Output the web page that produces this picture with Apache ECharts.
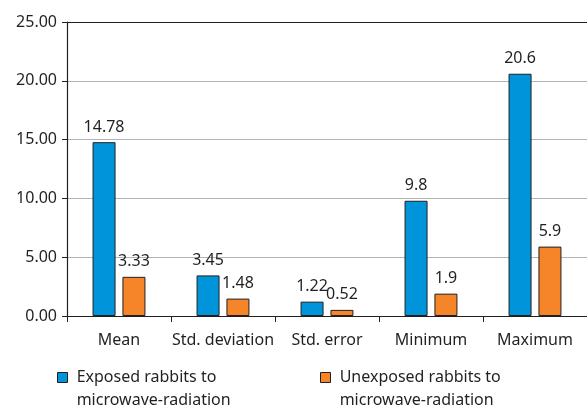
<!DOCTYPE html>
<html><head><meta charset="utf-8">
<script src="https://cdn.jsdelivr.net/npm/echarts@6/dist/echarts.min.js"></script>
<style>html,body{margin:0;padding:0;background:#fff}#c{width:587px;height:405px}</style>
</head><body><div id="c"></div>
<script>
const categories = ['Mean', 'Std. deviation', 'Std. error', 'Minimum', 'Maximum'];
const exposed = [14.78, 3.45, 1.22, 9.8, 20.6];
const unexposed = [3.33, 1.48, 0.52, 1.9, 5.9];
const seriesNames = ['Exposed rabbits to\nmicrowave-radiation', 'Unexposed rabbits to\nmicrowave-radiation'];
const yTicks = [0, 5, 10, 15, 20, 25];

const font = 'Noto Sans';
const txt = '#231f20';
const fs = 16;
const chart = echarts.init(document.getElementById('c'));
const labelCfg = { show: true, position: 'top', distance: 7, color: txt, fontFamily: font, fontSize: fs };
const legendBase = {
  top: 343, padding: 0, itemWidth: 10, itemHeight: 10, icon: 'rect',
  itemStyle: { borderColor: '#231f20', borderWidth: 1 },
  textStyle: { color: txt, fontFamily: font, fontSize: fs, lineHeight: 23 },
  formatter: n => ' \n' + n.split('\n').map(s => ' ' + s).join('\n')
};
chart.setOption({
  animation: false,
  grid: { left: 67, right: -3, top: 22, bottom: 89, containLabel: false },
  xAxis: {
    type: 'category', data: categories,
    axisLine: { lineStyle: { color: '#231f20', width: 1.2 } },
    axisTick: { show: true, length: 6, lineStyle: { color: '#231f20' } },
    axisLabel: { interval: 0, color: txt, fontFamily: font, fontSize: fs, margin: 16 }
  },
  yAxis: {
    type: 'value', min: yTicks[0], max: yTicks[yTicks.length - 1], interval: 5,
    axisLine: { show: true, lineStyle: { color: '#231f20', width: 1.2 } },
    axisTick: { show: true, length: 5, lineStyle: { color: '#231f20' } },
    axisLabel: { color: txt, fontFamily: font, fontSize: fs, margin: 10, formatter: v => v.toFixed(2) },
    splitLine: { show: true, lineStyle: { color: ['#231f20', '#b3b3b3', '#b3b3b3', '#b3b3b3', '#b3b3b3', '#231f20'], width: 1 } }
  },
  legend: [
    Object.assign({ left: 57, data: [seriesNames[0]] }, legendBase),
    Object.assign({ left: 320, data: [seriesNames[1]] }, legendBase)
  ],
  series: [
    { name: seriesNames[0], type: 'bar', data: exposed, barWidth: 23, barGap: '30%',
      itemStyle: { color: '#0095da', borderColor: '#231f20', borderWidth: 1 }, label: labelCfg },
    { name: seriesNames[1], type: 'bar', data: unexposed, barWidth: 23,
      itemStyle: { color: '#f68428', borderColor: '#231f20', borderWidth: 1 }, label: labelCfg }
  ]
});
</script></body></html>
